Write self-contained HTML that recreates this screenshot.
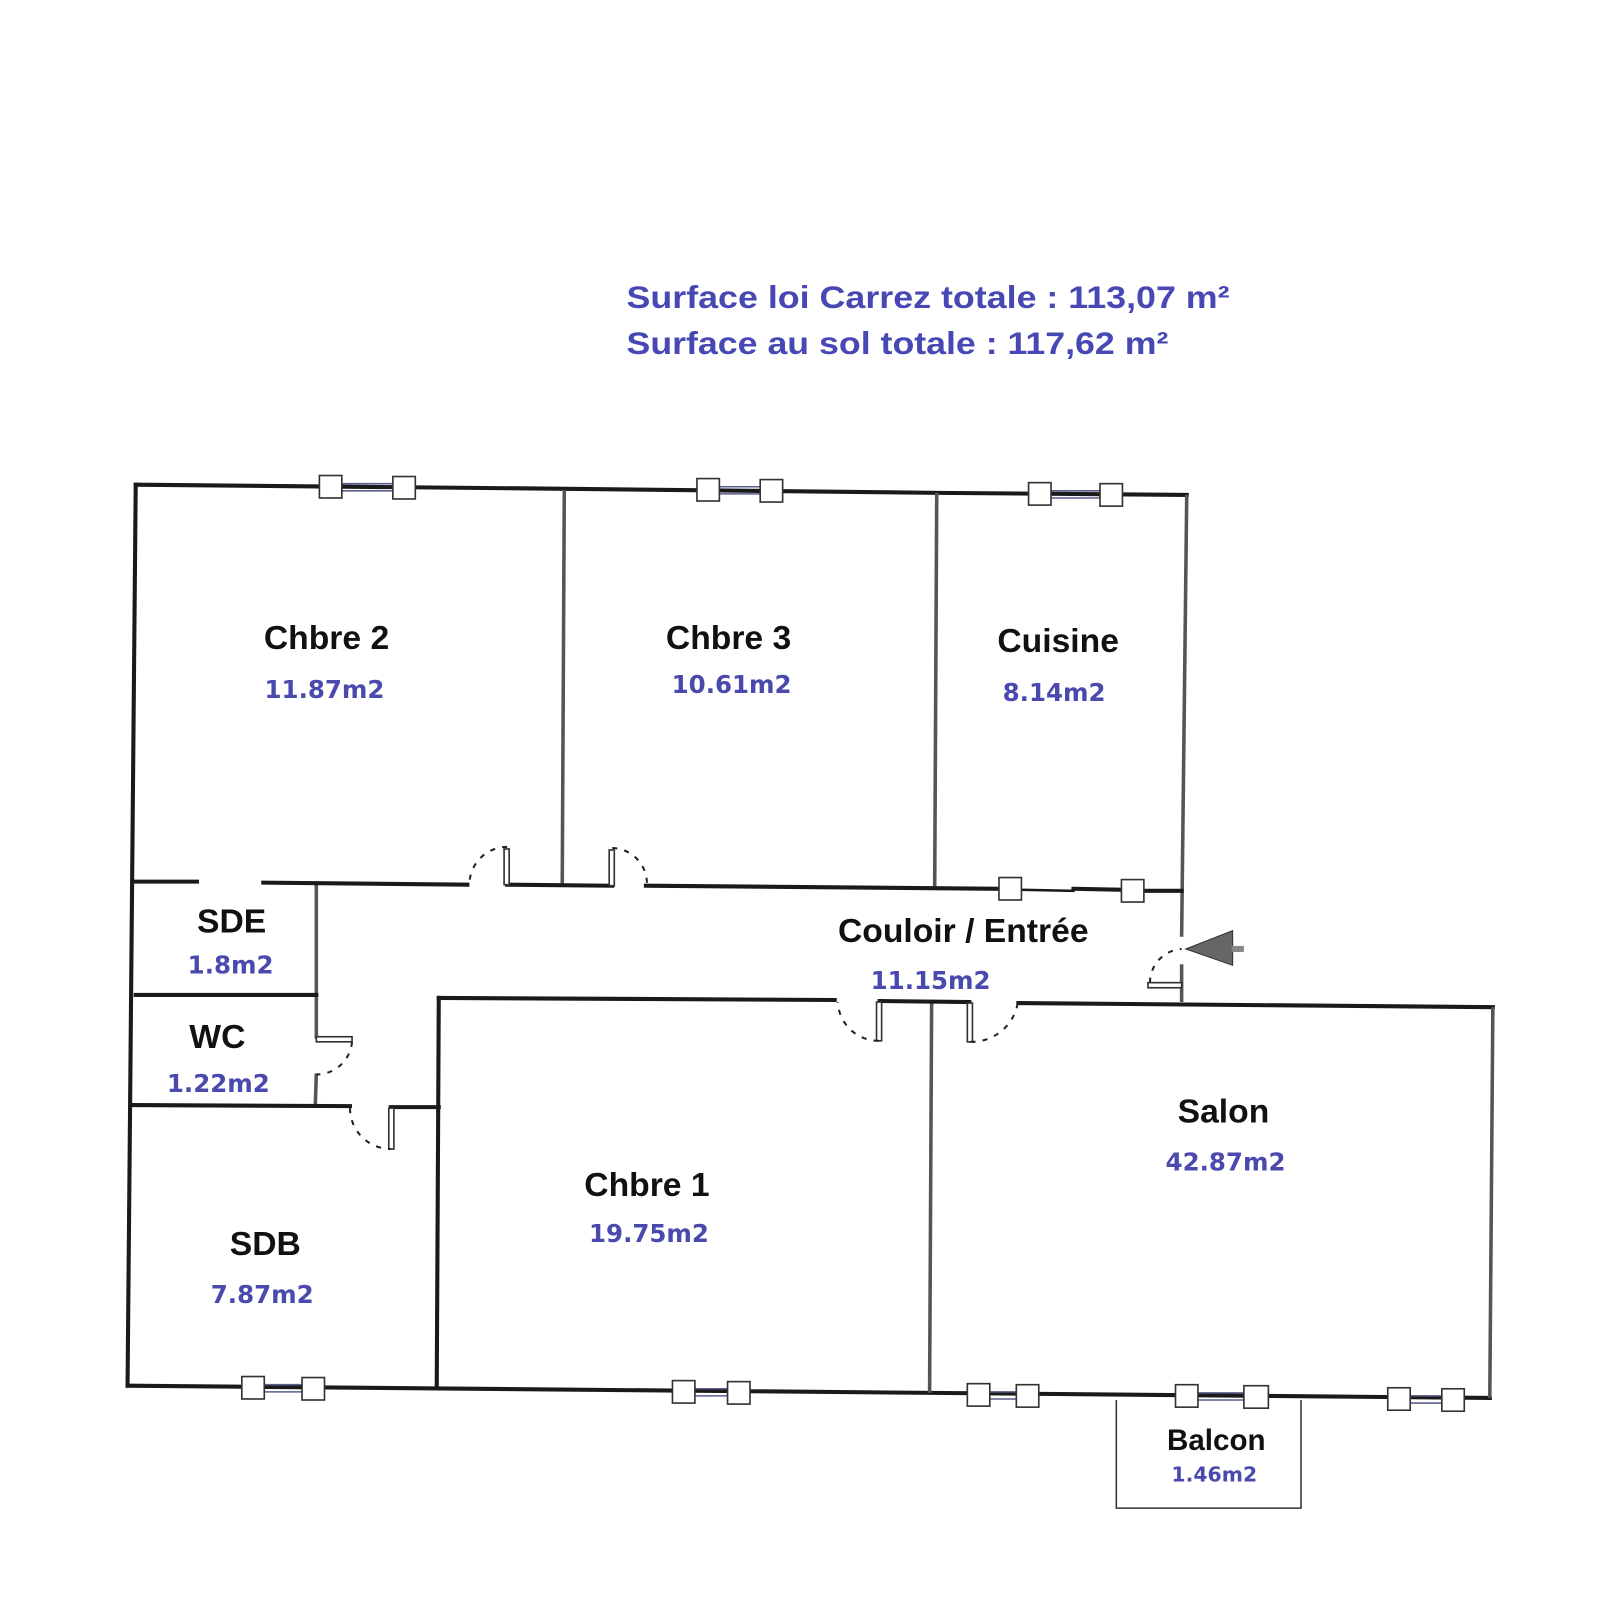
<!DOCTYPE html>
<html><head><meta charset="utf-8"><style>
html,body{margin:0;padding:0;background:#fff;width:1600px;height:1600px;overflow:hidden}
svg{display:block}
.w{stroke:#1a1a1a;stroke-width:4;fill:none;stroke-linecap:square}
.g{stroke:#555;stroke-width:3.5;fill:none}
.sq{fill:#fff;stroke:#333;stroke-width:1.6}
.dl{stroke:#5a5f8a;stroke-width:1.5}
.arc{stroke:#222;stroke-width:2;fill:none;stroke-dasharray:5 7}
.leaf{fill:#fff;stroke:#333;stroke-width:1.6}
.lb{font-family:"Liberation Sans",sans-serif;font-weight:bold;font-size:33px;fill:#111;text-anchor:middle}
.ar{font-family:"DejaVu Sans",sans-serif;font-weight:bold;font-size:24px;fill:#4a4aae;text-anchor:middle}
.hd{font-family:"Liberation Sans",sans-serif;font-weight:bold;font-size:31px;fill:#4848b4}
</style></head><body>
<svg width="1600" height="1600" viewBox="0 0 1568 1568" xmlns="http://www.w3.org/2000/svg">
<rect width="1568" height="1568" fill="#fff"/>
<text class="hd" x="614" y="302" textLength="591" lengthAdjust="spacingAndGlyphs">Surface loi Carrez totale : 113,07 m²</text>
<text class="hd" x="614" y="347" textLength="531" lengthAdjust="spacingAndGlyphs">Surface au sol totale : 117,62 m²</text>

<polyline class="w" points="133,475 555,479 920,483 1163,485"/>
<polyline class="w" points="133,475 125,1358"/>
<polyline class="w" points="125,1358 913,1365 1460,1370"/>
<polyline class="g" points="1163,485 1158,918"/>
<polyline class="g" points="1158,945 1158,982"/>
<polyline class="w" points="998,983 1463,987"/>
<polyline class="g" points="1463,987 1460,1370"/>
<line class="g" x1="553" y1="480" x2="551" y2="866"/>
<line class="g" x1="918" y1="483" x2="916" y2="870"/>
<line class="g" x1="310" y1="866" x2="310" y2="1018"/>
<line class="g" x1="310" y1="1052" x2="309" y2="1083"/>
<line class="w" x1="430" y1="978" x2="428" y2="1360"/>
<line class="g" x1="913" y1="982" x2="911" y2="1365"/>
<line class="w" x1="133" y1="864" x2="193" y2="864"/>
<line class="w" x1="258" y1="865" x2="458" y2="867"/>
<line class="w" x1="497" y1="867" x2="600" y2="868"/>
<line class="w" x1="633" y1="868" x2="980" y2="871"/>
<line class="w" x1="1000" y1="872" x2="1052" y2="873" style="stroke-width:2.5"/>
<line class="w" x1="1052" y1="871" x2="1100" y2="872"/>
<line class="w" x1="1122" y1="873" x2="1158" y2="873"/>
<rect class="sq" x="979" y="860" width="22" height="22"/>
<rect class="sq" x="1099" y="862" width="22" height="22"/>
<line class="w" x1="133" y1="975" x2="310" y2="975"/>
<line class="w" x1="130" y1="1083" x2="343" y2="1084"/>
<line class="w" x1="383" y1="1085" x2="430" y2="1085"/>
<line class="w" x1="430" y1="978" x2="818" y2="980"/>
<line class="w" x1="862" y1="981" x2="950" y2="982"/>

<rect class="leaf" x="494" y="832" width="5" height="35"/>
<path class="arc" d="M497,830 A37,37 0 0 0 460,866"/>
<rect class="leaf" x="597" y="833" width="5" height="35"/>
<path class="arc" d="M600,831 A35,35 0 0 1 634,866"/>
<rect class="leaf" x="859" y="982" width="5" height="38"/>
<path class="arc" d="M861,1020 A40,40 0 0 1 821,982"/>
<rect class="leaf" x="948" y="983" width="5" height="38"/>
<path class="arc" d="M951,1021 A46,46 0 0 0 997,985"/>
<rect class="leaf" x="310" y="1016" width="35" height="5"/>
<path class="arc" d="M345,1021 A35,35 0 0 1 310,1053"/>
<rect class="leaf" x="381" y="1086" width="5" height="40"/>
<path class="arc" d="M343,1086 A40,40 0 0 0 383,1126"/>
<rect class="leaf" x="1125" y="963" width="33" height="5"/>
<path class="arc" d="M1127,963 A33,33 0 0 1 1158,930"/>
<polygon points="1162,930 1208,912 1208,946" fill="#666" stroke="#333" stroke-width="1"/>
<rect x="1207" y="927" width="12" height="6" fill="#888"/>

<g>
<line class="dl" x1="335" y1="474" x2="385" y2="474"/><line class="dl" x1="335" y1="481" x2="385" y2="481"/>
<rect class="sq" x="313" y="466" width="22" height="22"/><rect class="sq" x="385" y="467" width="22" height="22"/>
<line class="dl" x1="705" y1="477" x2="745" y2="477"/><line class="dl" x1="705" y1="484" x2="745" y2="484"/>
<rect class="sq" x="683" y="469" width="22" height="22"/><rect class="sq" x="745" y="470" width="22" height="22"/>
<line class="dl" x1="1030" y1="481" x2="1078" y2="481"/><line class="dl" x1="1030" y1="488" x2="1078" y2="488"/>
<rect class="sq" x="1008" y="473" width="22" height="22"/><rect class="sq" x="1078" y="474" width="22" height="22"/>
<line class="dl" x1="259" y1="1357" x2="296" y2="1357"/><line class="dl" x1="259" y1="1364" x2="296" y2="1364"/>
<rect class="sq" x="237" y="1349" width="22" height="22"/><rect class="sq" x="296" y="1350" width="22" height="22"/>
<line class="dl" x1="681" y1="1361" x2="713" y2="1361"/><line class="dl" x1="681" y1="1368" x2="713" y2="1368"/>
<rect class="sq" x="659" y="1353" width="22" height="22"/><rect class="sq" x="713" y="1354" width="22" height="22"/>
<line class="dl" x1="970" y1="1364" x2="996" y2="1364"/><line class="dl" x1="970" y1="1371" x2="996" y2="1371"/>
<rect class="sq" x="948" y="1356" width="22" height="22"/><rect class="sq" x="996" y="1357" width="22" height="22"/>
<line class="dl" x1="1174" y1="1365" x2="1219" y2="1365"/><line class="dl" x1="1174" y1="1372" x2="1219" y2="1372"/>
<rect class="sq" x="1152" y="1357" width="22" height="22"/><rect class="sq" x="1219" y="1358" width="24" height="22"/>
<line class="dl" x1="1382" y1="1368" x2="1413" y2="1368"/><line class="dl" x1="1382" y1="1375" x2="1413" y2="1375"/>
<rect class="sq" x="1360" y="1360" width="22" height="22"/><rect class="sq" x="1413" y="1361" width="22" height="22"/>
</g>

<polyline points="1094,1372 1094,1478 1275,1478 1275,1372" fill="none" stroke="#333" stroke-width="1.5"/>

<text class="lb" x="320" y="636">Chbre 2</text><text class="ar" x="318" y="684">11.87m2</text>
<text class="lb" x="714" y="636">Chbre 3</text><text class="ar" x="717" y="679">10.61m2</text>
<text class="lb" x="1037" y="639">Cuisine</text><text class="ar" x="1033" y="687">8.14m2</text>
<text class="lb" x="227" y="914">SDE</text><text class="ar" x="226" y="954">1.8m2</text>
<text class="lb" x="213" y="1027">WC</text><text class="ar" x="214" y="1070">1.22m2</text>
<text class="lb" x="944" y="923">Couloir / Entrée</text><text class="ar" x="912" y="969">11.15m2</text>
<text class="lb" x="634" y="1172">Chbre 1</text><text class="ar" x="636" y="1217">19.75m2</text>
<text class="lb" x="1199" y="1100">Salon</text><text class="ar" x="1201" y="1147">42.87m2</text>
<text class="lb" x="260" y="1230">SDB</text><text class="ar" x="257" y="1277">7.87m2</text>
<text class="lb" x="1192" y="1421" style="font-size:29px">Balcon</text><text class="ar" x="1190" y="1452" style="font-size:20px">1.46m2</text>
</svg>
</body></html>
